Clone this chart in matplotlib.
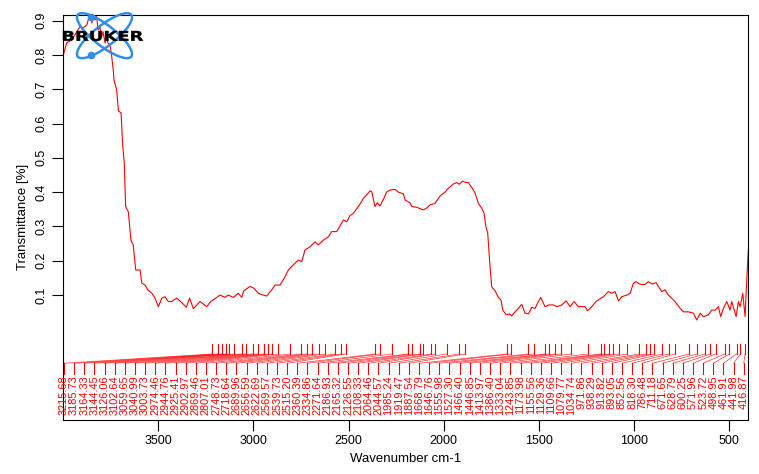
import numpy as np
import matplotlib.pyplot as plt
from matplotlib.patches import Ellipse, PathPatch
from matplotlib.textpath import TextPath
from matplotlib.font_manager import FontProperties
from matplotlib.transforms import Affine2D

plt.rcParams['font.family'] = ['Liberation Sans', 'DejaVu Sans']

# spectrum (wavenumber cm-1, transmittance)
wavenumber = [3998, 3981, 3954, 3932, 3911, 3895, 3875, 3863, 3854, 3848, 3842, 3832, 3823, 3816,
              3806, 3797, 3790, 3779, 3770, 3764, 3753, 3744, 3736, 3732, 3718, 3709, 3695, 3686,
              3678, 3671, 3657, 3643, 3631, 3618, 3595, 3586, 3569, 3555, 3534, 3517, 3499, 3481,
              3464, 3447, 3429, 3403, 3376, 3352, 3335, 3315, 3280, 3245, 3224, 3197, 3175, 3149,
              3132, 3105, 3079, 3061, 3051, 3018, 2998, 2974, 2955, 2930, 2904, 2886, 2860, 2834,
              2816, 2790, 2764, 2746, 2729, 2702, 2676, 2659, 2632, 2606, 2588, 2562, 2539, 2527,
              2509, 2492, 2475, 2457, 2440, 2422, 2404, 2387, 2378, 2361, 2349, 2334, 2317, 2299,
              2282, 2256, 2238, 2212, 2203, 2177, 2168, 2142, 2107, 2086, 2072, 2046, 2019, 1993,
              1976, 1949, 1932, 1918, 1902, 1883, 1871, 1853, 1835, 1818, 1800, 1788, 1779, 1769,
              1757, 1748, 1730, 1713, 1699, 1690, 1671, 1654, 1643, 1625, 1608, 1590, 1573, 1555,
              1537, 1520, 1503, 1490, 1468, 1450, 1424, 1406, 1380, 1357, 1336, 1315, 1293, 1257,
              1245, 1222, 1200, 1182, 1161, 1135, 1117, 1100, 1082, 1065, 1038, 1021, 1004, 990,
              968, 942, 925, 907, 884, 867, 854, 837, 820, 802, 785, 758, 741, 715,
              688, 671, 653, 636, 610, 592, 574, 557, 545, 531, 513, 496, 487, 464,
              452, 443, 429, 417, 408, 400]
transmittance = [0.800, 0.835, 0.844, 0.864, 0.882, 0.879, 0.887, 0.912, 0.908, 0.893, 0.914, 0.902, 0.912, 0.873,
                 0.882, 0.853, 0.868, 0.835, 0.850, 0.835, 0.829, 0.795, 0.756, 0.727, 0.698, 0.637, 0.631, 0.533,
                 0.485, 0.358, 0.343, 0.260, 0.246, 0.173, 0.173, 0.135, 0.129, 0.115, 0.106, 0.091, 0.066, 0.091,
                 0.095, 0.081, 0.081, 0.091, 0.078, 0.064, 0.091, 0.060, 0.081, 0.066, 0.081, 0.091, 0.100, 0.093,
                 0.100, 0.093, 0.105, 0.093, 0.112, 0.125, 0.120, 0.105, 0.101, 0.097, 0.115, 0.129, 0.129, 0.153,
                 0.173, 0.188, 0.202, 0.197, 0.231, 0.241, 0.255, 0.246, 0.260, 0.270, 0.285, 0.285, 0.307, 0.319,
                 0.314, 0.332, 0.338, 0.352, 0.365, 0.382, 0.392, 0.404, 0.401, 0.358, 0.369, 0.360, 0.379, 0.401,
                 0.406, 0.408, 0.400, 0.395, 0.377, 0.369, 0.358, 0.356, 0.348, 0.355, 0.363, 0.367, 0.389, 0.400,
                 0.411, 0.424, 0.428, 0.423, 0.432, 0.428, 0.428, 0.414, 0.397, 0.367, 0.353, 0.338, 0.301, 0.281,
                 0.185, 0.124, 0.112, 0.093, 0.085, 0.056, 0.042, 0.045, 0.039, 0.051, 0.061, 0.073, 0.047, 0.045,
                 0.064, 0.061, 0.081, 0.093, 0.066, 0.071, 0.071, 0.066, 0.071, 0.083, 0.066, 0.081, 0.066, 0.066,
                 0.054, 0.066, 0.081, 0.088, 0.095, 0.110, 0.105, 0.110, 0.083, 0.095, 0.100, 0.105, 0.134, 0.139,
                 0.131, 0.131, 0.139, 0.132, 0.136, 0.120, 0.110, 0.115, 0.100, 0.090, 0.081, 0.061, 0.051, 0.051,
                 0.047, 0.027, 0.047, 0.037, 0.042, 0.056, 0.056, 0.066, 0.037, 0.061, 0.081, 0.056, 0.081, 0.037,
                 0.081, 0.066, 0.105, 0.037, 0.144, 0.231]

peaks = [3215.68, 3185.73, 3164.33, 3144.45, 3126.06, 3102.64, 3059.65, 3040.99, 3003.73, 2974.46,
         2944.76, 2925.41, 2902.97, 2869.46, 2807.01, 2748.73, 2718.64, 2689.96, 2656.59, 2622.69,
         2569.57, 2539.73, 2515.20, 2360.39, 2334.86, 2271.64, 2186.93, 2165.32, 2126.55, 2108.33,
         2064.46, 2044.57, 1985.24, 1919.47, 1887.54, 1668.79, 1646.76, 1555.98, 1527.30, 1466.40,
         1446.85, 1413.97, 1386.40, 1333.04, 1243.85, 1173.98, 1155.56, 1129.36, 1109.66, 1079.77,
         1034.74, 971.86, 938.29, 913.82, 893.05, 852.56, 818.30, 786.48, 711.18, 671.65,
         628.79, 600.25, 571.96, 523.72, 498.95, 461.91, 441.98, 416.87]

xticks = [3500, 3000, 2500, 2000, 1500, 1000, 500]
yticks = [0.1, 0.2, 0.3, 0.4, 0.5, 0.6, 0.7, 0.8, 0.9]

W, H = 759, 474
fig = plt.figure(figsize=(W / 100, H / 100), dpi=100)
ax = fig.add_axes([63 / W, 1 - 420 / H, (748.3 - 63) / W, (420 - 14.7) / H])

ax.plot(wavenumber, transmittance, color='red', lw=0.8)

# peak table at the bottom: marks, fan of leader lines, labels
label_x = np.linspace(3995, 424, len(peaks))
for p, lx in zip(peaks, label_x):
    ax.plot([p, p], [-0.043, -0.072], color='red', lw=0.8)
    ax.plot([p, lx], [-0.072, -0.099], color='red', lw=0.5, alpha=0.8)
    ax.plot([lx, lx], [-0.099, -0.130], color='red', lw=0.8)
    ax.text(lx, -0.134, f'{p:.2f}', rotation=90, ha='center', va='top',
            fontsize=7.9, color='red')

ax.set_xlim(4000, 400)
ax.set_ylim(-0.2645, 0.9175)
ax.set_xticks(xticks)
ax.set_xticklabels([str(t) for t in xticks], fontsize=9)
ax.set_yticks(yticks)
ax.set_yticklabels([f'{t:.1f}' for t in yticks], fontsize=9, rotation=90, va='center')
ax.tick_params(length=8, width=0.8, pad=3)
for s in ax.spines.values():
    s.set_linewidth(0.8)
ax.set_xlabel('Wavenumber cm-1', fontsize=9.5, labelpad=4)
ax.set_ylabel('Transmittance [%]', fontsize=9.5, labelpad=5)

# Bruker logo, overlay in pixel coordinates
ov = fig.add_axes([0, 0, 1, 1], facecolor='none')
ov.set_xlim(0, W)
ov.set_ylim(H, 0)
ov.axis('off')
blue = '#2f8fe8'
for ang in (38, -38):
    ov.add_patch(Ellipse((104.5, 35.7), 68, 21, angle=ang, fill=False, ec=blue, lw=1.8))
ov.plot([91, 91], [16.7, 55], 'o', color=blue, ms=4.5)
tp = TextPath((0, 0), 'BRUKER', size=10, prop=FontProperties(family='DejaVu Sans', weight='heavy'))
bb = tp.get_extents()
tr = Affine2D().translate(-bb.x0, -bb.y0).scale(80 / bb.width, -10 / bb.height).translate(63, 41)
ov.add_patch(PathPatch(tr.transform_path(tp), fc='black', ec='black', lw=0.3))

fig.savefig('out.png', dpi=100)
